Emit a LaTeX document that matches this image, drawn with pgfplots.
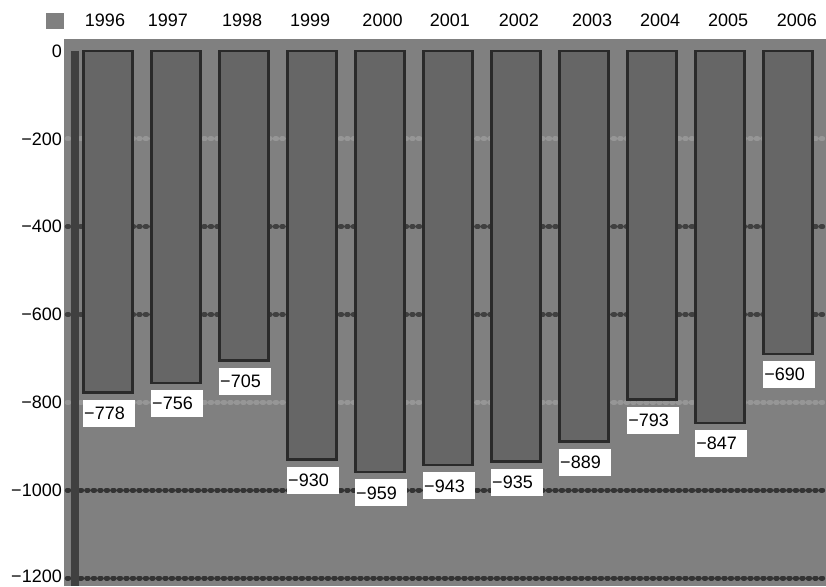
\documentclass[border=0pt]{standalone}
\usepackage{pgfplots}
\pgfplotsset{compat=1.18}
\usepackage{fontspec}
\setmainfont{Liberation Sans}
\definecolor{bg}{HTML}{808080}
\definecolor{barc}{HTML}{666666}
\definecolor{bard}{HTML}{2A2A2A}
\definecolor{gridd}{HTML}{333333}
\definecolor{gridm}{HTML}{404040}
\definecolor{gridl}{HTML}{969696}
\definecolor{strip}{HTML}{404040}
\begin{document}
\fontsize{18}{21}\selectfont
\begin{tikzpicture}
\begin{axis}[
  at={(0pt,0pt)}, anchor=south west,
  scale only axis, width=762pt, height=547pt,
  xmin=-0.647, xmax=10.559, ymin=-1218.2, ymax=27.3,
  axis background/.style={fill=bg},
  axis line style={draw=none},
  tick style={draw=none},
  xtick={-0.044,0.882,1.971,2.971,4.037,5.029,6.044,7.118,8.118,9.118,10.132},
  xticklabels={1996,1997,1998,1999,2000,2001,2002,2003,2004,2005,2006},
  xticklabel pos=upper,
  xticklabel style={anchor=south, inner sep=0pt, yshift=12pt},
  ytick={0,-200,-400,-600,-800,-1000,-1200},
  yticklabels={0,−200,−400,−600,−800,−1000,\raisebox{4pt}{−1200}},
  yticklabel style={anchor=east, inner sep=0pt, xshift=-2pt},
  ticklabel style={font=\fontsize{18}{21}\selectfont},
  gl/.style={line width=5pt, dash pattern=on 1.5pt off 5pt, line cap=round},
]
% grid lines
\addplot[gridl, gl] coordinates {(-0.60,-200) (10.559,-200)};
\addplot[gridm, gl] coordinates {(-0.60,-400) (10.559,-400)};
\addplot[gridm, gl] coordinates {(-0.60,-600) (10.559,-600)};
\addplot[gridl, gl] coordinates {(-0.60,-800) (10.559,-800)};
\addplot[gridd, gl] coordinates {(-0.60,-1000) (10.559,-1000)};
\addplot[gridd, gl] coordinates {(-0.60,-1200) (10.559,-1200)};
% left strip
\addplot[strip, line width=8pt] coordinates {(-0.485,0) (-0.485,-1218.2)};
% bars
\addplot[ybar, bar width=0.72, fill=barc, draw=bard, line width=2.5pt,
  nodes near coords, point meta=explicit symbolic,
  every node near coord/.append style={anchor=north west, fill=white, text=black,
    inner xsep=1pt, inner ysep=0pt, text width=50pt, minimum height=27pt,
    align=left, xshift=-26pt, yshift=-6pt, font=\fontsize{18}{21}\selectfont}]
coordinates {
(0,-778) [−778]
(1,-756) [−756]
(2,-705) [−705]
(3,-930) [−930]
(4,-959) [−959]
(5,-943) [−943]
(6,-935) [−935]
(7,-889) [−889]
(8,-793) [−793]
(9,-847) [−847]
(10,-690) [−690]
};
\end{axis}
\fill[bg] (-18pt,557pt) rectangle (0pt,573pt);
\pgfresetboundingbox
\path (-64pt,0pt) rectangle (762pt,586pt);
\end{tikzpicture}
\end{document}
